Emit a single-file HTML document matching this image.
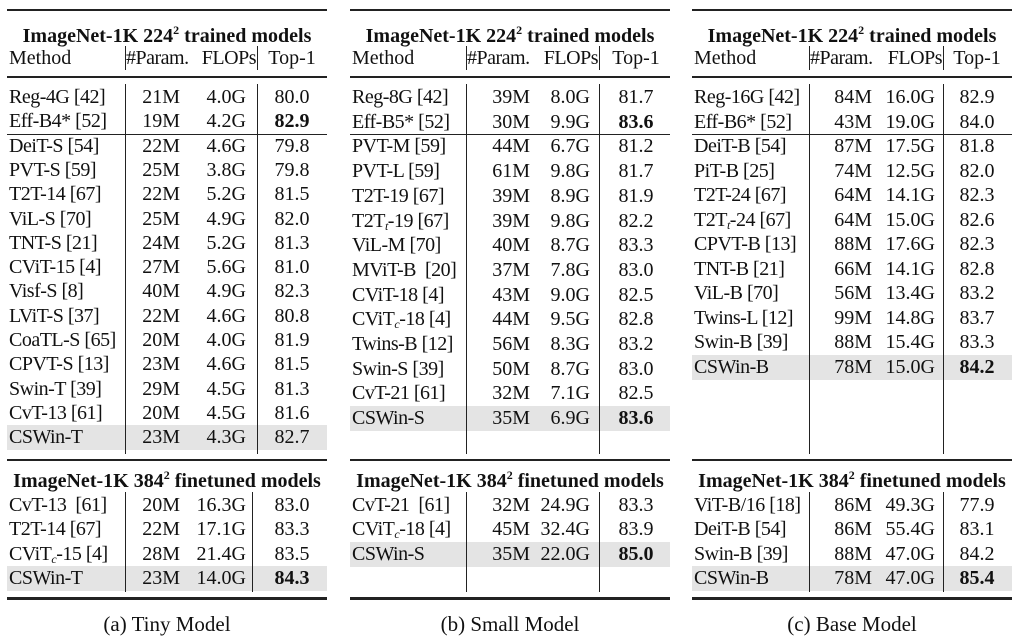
<!DOCTYPE html>
<html><head><meta charset="utf-8"><style>
body{margin:0;width:1024px;height:642px;background:#fff;position:relative;overflow:hidden;font-family:"Liberation Serif",serif;color:#111}
div{position:absolute;white-space:nowrap}
.t{font-size:20px;line-height:22px}
.m{letter-spacing:-0.5px}
.b{font-weight:bold}
.h{background:#e4e4e4}
.l{background:#222}
sup{font-size:12px;vertical-align:8px;line-height:0}
sub{font-size:12px;font-style:italic;vertical-align:-3px;line-height:0}
</style></head><body>
<script>
const T=[
{x0:7,x1:327,v1:125,v2:257,p:180,f:246,tc:292,cap:"(a) Tiny Model",pitch:24.3,
rows:[["Reg-4G [42]","21M","4.0G","80.0"],["Eff-B4* [52]","19M","4.2G","<b>82.9</b>"],["DeiT-S [54]","22M","4.6G","79.8"],["PVT-S [59]","25M","3.8G","79.8"],["T2T-14 [67]","22M","5.2G","81.5"],["ViL-S [70]","25M","4.9G","82.0"],["TNT-S [21]","24M","5.2G","81.3"],["CViT-15 [4]","27M","5.6G","81.0"],["Visf-S [8]","40M","4.9G","82.3"],["LViT-S [37]","22M","4.6G","80.8"],["CoaTL-S [65]","20M","4.0G","81.9"],["CPVT-S [13]","23M","4.6G","81.5"],["Swin-T [39]","29M","4.5G","81.3"],["CvT-13 [61]","20M","4.5G","81.6"],["CSWin-T","23M","4.3G","82.7"]],
rows2:[["CvT-13&nbsp; [61]","20M","16.3G","83.0"],["T2T-14 [67]","22M","17.1G","83.3"],["CViT<sub>c</sub>-15 [4]","28M","21.4G","83.5"],["CSWin-T","23M","14.0G","<b>84.3</b>"]],v2b:252},
{x0:350,x1:670,v1:466,v2:599,p:530,f:590,tc:636,cap:"(b) Small Model",pitch:24.7,
rows:[["Reg-8G [42]","39M","8.0G","81.7"],["Eff-B5* [52]","30M","9.9G","<b>83.6</b>"],["PVT-M [59]","44M","6.7G","81.2"],["PVT-L [59]","61M","9.8G","81.7"],["T2T-19 [67]","39M","8.9G","81.9"],["T2T<sub>t</sub>-19 [67]","39M","9.8G","82.2"],["ViL-M [70]","40M","8.7G","83.3"],["MViT-B&nbsp; [20]","37M","7.8G","83.0"],["CViT-18 [4]","43M","9.0G","82.5"],["CViT<sub>c</sub>-18 [4]","44M","9.5G","82.8"],["Twins-B [12]","56M","8.3G","83.2"],["Swin-S [39]","50M","8.7G","83.0"],["CvT-21 [61]","32M","7.1G","82.5"],["CSWin-S","35M","6.9G","<b>83.6</b>"]],
rows2:[["CvT-21&nbsp; [61]","32M","24.9G","83.3"],["CViT<sub>c</sub>-18 [4]","45M","32.4G","83.9"],["CSWin-S","35M","22.0G","<b>85.0</b>"]],v2b:599},
{x0:692,x1:1012,v1:809,v2:943,p:872,f:935,tc:977,cap:"(c) Base Model",pitch:24.5,
rows:[["Reg-16G [42]","84M","16.0G","82.9"],["Eff-B6* [52]","43M","19.0G","84.0"],["DeiT-B [54]","87M","17.5G","81.8"],["PiT-B [25]","74M","12.5G","82.0"],["T2T-24 [67]","64M","14.1G","82.3"],["T2T<sub>t</sub>-24 [67]","64M","15.0G","82.6"],["CPVT-B [13]","88M","17.6G","82.3"],["TNT-B [21]","66M","14.1G","82.8"],["ViL-B [70]","56M","13.4G","83.2"],["Twins-L [12]","99M","14.8G","83.7"],["Swin-B [39]","88M","15.4G","83.3"],["CSWin-B","78M","15.0G","<b>84.2</b>"]],
rows2:[["ViT-B/16 [18]","86M","49.3G","77.9"],["DeiT-B [54]","86M","55.4G","83.1"],["Swin-B [39]","88M","47.0G","84.2"],["CSWin-B","78M","47.0G","<b>85.4</b>"]],v2b:943}];
let h="";
const box=(x,y,w,hh,c)=>`<div class="${c}" style="left:${x}px;top:${y}px;width:${w}px;height:${hh}px"></div>`;
const txt=(x,y,s,al,c="")=>{
 if(al=="l")return `<div class="t ${c}" style="left:${x}px;top:${y-11}px">${s}</div>`;
 if(al=="r")return `<div class="t ${c}" style="right:${1024-x}px;top:${y-11}px">${s}</div>`;
 return `<div class="t ${c}" style="left:${x-200}px;width:400px;text-align:center;top:${y-11}px">${s}</div>`;};
for(const t of T){
 const W=t.x1-t.x0;
 h+=box(t.x0,9,W,2,"l");
 h+=txt((t.x0+t.x1)/2,36,"ImageNet-1K 224<sup>2</sup> trained models","c","b");
 h+=txt(t.x0+2,58,"Method","l");
 h+=txt(t.v1+1,58,"#Param.","l","m");
 h+=txt(t.v2-1,58,"FLOPs","r","m");
 h+=txt(t.tc,58,"Top-1","c");
 h+=box(t.v1,46,1,24,"l");h+=box(t.v2,46,1,24,"l");
 h+=box(t.x0,76,W,1.5,"l");
 const n=t.rows.length;
 t.rows.forEach((r,i)=>{const y=97+i*t.pitch;
  if(i==n-1)h+=box(t.x0,y-12,W,25,"h");
  h+=txt(t.x0+2,y,r[0],"l","m");h+=txt(t.p,y,r[1],"r");h+=txt(t.f,y,r[2],"r");h+=txt(t.tc,y,r[3],"c");});
 h+=box(t.x0,134,W,1,"l");
 h+=box(t.v1,84,1,370,"l");h+=box(t.v2,84,1,370,"l");
 h+=box(t.x0,459,W,2,"l");
 h+=txt((t.x0+t.x1)/2,481,"ImageNet-1K 384<sup>2</sup> finetuned models","c","b");
 t.rows2.forEach((r,i)=>{const y=505+i*24.3;
  if(i==t.rows2.length-1)h+=box(t.x0,y-12,W,25,"h");
  h+=txt(t.x0+2,y,r[0],"l","m");h+=txt(t.p,y,r[1],"r");h+=txt(t.f,y,r[2],"r");h+=txt(t.tc,y,r[3],"c");});
 h+=box(t.v1,492,1,100,"l");h+=box(t.v2b,492,1,100,"l");
 h+=box(t.x0,597,W,2.5,"l");
 h+=`<div style="left:${(t.x0+t.x1)/2-120}px;width:240px;text-align:center;top:612px;font-size:21px">${t.cap}</div>`;
}
document.body.insertAdjacentHTML("beforeend",h);
</script>
</body></html>
